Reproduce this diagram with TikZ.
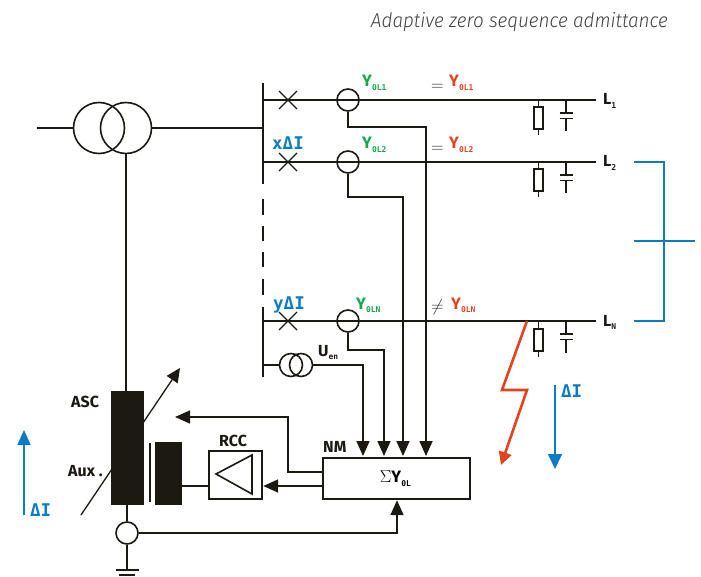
\documentclass[tikz,border=0pt]{standalone}
\usepackage{xcolor}
\usepackage{fontspec}
\setmainfont{Fira Sans}
\newfontfamily\monofnt{DejaVu Sans Mono}
\newfontfamily\titlefnt[FakeStretch=0.945]{Fira Sans Light}
\usetikzlibrary{arrows.meta}
\definecolor{wireblack}{HTML}{1C1812}
\definecolor{ygreen}{HTML}{12A84B}
\definecolor{yred}{HTML}{E2431E}
\definecolor{dblue}{HTML}{0A7CC4}
\tikzset{
  wire/.style={draw=wireblack,line width=1.6pt},
  tipwire/.style={wire,-{Triangle[length=15pt,width=13pt]},shorten >=0pt},
  core/.style={draw=none,fill=wireblack,inner sep=0pt,anchor=north west},
  ct/.style={circle,draw=wireblack,line width=1.6pt,fill=none,minimum size=22pt,inner sep=0pt},
  blueline/.style={draw=dblue,line width=1.7pt},
  boxed/.style={draw=wireblack,line width=2.2pt,inner sep=0pt,anchor=north west},
  lab/.style={inner sep=0pt,anchor=base west,text=wireblack,font=\fontsize{16}{16}\selectfont\bfseries},
  ylab/.style={inner sep=0pt,anchor=base west,font=\fontsize{16.5}{16.5}\selectfont\bfseries},
  dlab/.style={inner sep=0pt,anchor=base west,text=dblue,font=\fontsize{17.5}{17.5}\selectfont\monofnt\bfseries},
  eqlab/.style={inner sep=0pt,anchor=base west,text=black!85},
}
\newcommand{\subtxt}[1]{\raisebox{-3.5pt}{\fontsize{8}{8}\selectfont\monofnt\bfseries #1}}
\begin{document}
\begin{tikzpicture}[x=1pt,y=-1pt]
  \useasboundingbox (0,0) rectangle (701,577);

  \node[inner sep=0pt,anchor=base east,text=black!75] (title) at (668,28)
    {\fontsize{20}{20}\selectfont\titlefnt\itshape Adaptive zero sequence admittance};

  \node[ct,minimum size=51pt] (tra) at (99,128) {};
  \node[ct,minimum size=51pt] (trb) at (126,128) {};
  \coordinate (feed) at (37,128);
  \coordinate (bus1) at (263,128);
  \draw[wire] (feed) -- (tra.west);
  \draw[wire] (trb.east) -- (bus1);

  \node[core,minimum width=33pt,minimum height=114pt] (asc) at (111,391) {};
  \node[core,minimum width=27pt,minimum height=63pt] (aux) at (155,442) {};
  \draw[wire] (trb.south) -- (asc.north -| trb.south);
  \fill[wireblack] (149.2,443) rectangle (151.2,502);

  \draw[wire] (263,83) -- (263,184);
  \draw[wire] (263,199) -- (263,215);
  \draw[wire] (263,226) -- (263,241);
  \draw[wire] (263,252) -- (263,267);
  \draw[wire] (263,279) -- (263,295);
  \draw[wire] (263,307) -- (263,377);

  \foreach \nm/\yy in {a/100,b/162,n/321}{
    \coordinate (bus\nm) at (263,\yy);
    \coordinate (end\nm) at (596,\yy);
    \node[ct] (ct\nm) at (348,\yy) {};
    \draw[wire] (bus\nm) -- (end\nm);
    \draw[wire,line width=1.4pt] (279,\yy-9) -- (297,\yy+9);
    \draw[wire,line width=1.4pt] (279,\yy+9) -- (297,\yy-9);
    \node[draw=wireblack,line width=2pt,minimum width=9pt,minimum height=22pt,inner sep=0pt,anchor=north] (res\nm) at (538.5,\yy+6.5) {};
    \draw[wire] (538.5,\yy) -- (res\nm.north);
    \draw[wire] (res\nm.south) -- ++(0,5);
    \draw[wire] (566,\yy) -- (566,\yy+13);
    \draw[wire] (559.5,\yy+13) -- (572.5,\yy+13);
    \draw[wire] (559.5,\yy+18.5) -- (572.5,\yy+18.5);
    \draw[wire] (566,\yy+18.5) -- (566,\yy+31.5);
  }

  \node[boxed,minimum width=147pt,minimum height=41pt] (nm) at (322,457) {};
  \node[boxed,minimum width=53pt,minimum height=48pt] (rcc) at (208,450) {};
  \node[inner sep=0pt] (sumy) at (395.5,478.5) {\fontsize{16.5}{16.5}\selectfont$\Sigma$\textbf{Y}\subtxt{0L}};

  \draw[wire,fill=white] (216,474) -- (252,455) -- (252,494) -- cycle;

  \draw[tipwire] (cta.south) |- (426,127) -- (426,456);
  \draw[tipwire] (ctb.south) |- (403,197) -- (403,456);
  \draw[tipwire] (ctn.south) |- (384,350) -- (384,456);

  \node[ct,minimum size=23pt] (ua) at (291,365) {};
  \node[ct,minimum size=23pt] (ub) at (301,365) {};
  \coordinate (busu) at (263,365);
  \draw[wire] (busu) -- (ua.west);
  \draw[tipwire] (ub.east) -- (363,365) -- (363,456);

  \draw[tipwire] (322,486) -- (rcc.east |- 0,486);
  \draw[wire] (rcc.west |- 0,486) -- (aux.east |- 0,486);
  \draw[tipwire] (322,472) -- (288,472) -- (288,417) -- (175,417);

  \node[ct] (cte) at (127,533) {};
  \coordinate (gnd) at (127,570);
  \draw[wire] (127,505) -- (cte.north);
  \draw[wire] (cte.south) -- (gnd);
  \draw[wire] (116,570) -- (139,570);
  \draw[wire,line width=2pt] (119,575) -- (135,575);
  \draw[tipwire] (cte.east) -- (397,533) -- (nm.south -| 397,0);

  \draw[wire,line width=1.3pt,-{Triangle[length=14pt,width=13pt]}] (81,515) -- (180,368);
  \node[core,minimum width=33pt,minimum height=114pt] at (111,391) {};

  \draw[draw=yred,line width=2.6pt,-{Triangle[length=13pt,width=13pt]}] (527,321) -- (502,390) -- (527,390) -- (501,465);

  \draw[blueline,-{Triangle[length=15pt,width=13pt]}] (24,515) -- (24,430);
  \draw[blueline,-{Triangle[length=15pt,width=14pt]}] (555,385) -- (555,469);
  \draw[blueline] (634,162) -- (664,162) -- (664,321) -- (634,321);
  \draw[blueline] (634,241) -- (695,241);

  \node[ylab,text=ygreen] (ya) at (362,87) {Y\subtxt{0L1}};
  \node[ylab,text=ygreen] (yb) at (362,149) {Y\subtxt{0L2}};
  \node[ylab,text=ygreen] (yn) at (356,309) {Y\subtxt{0LN}};
  \node[ylab,text=yred] (ra) at (449,87) {Y\subtxt{0L1}};
  \node[ylab,text=yred] (rb) at (449,149) {Y\subtxt{0L2}};
  \node[ylab,text=yred] (rn) at (451,309) {Y\subtxt{0LN}};
  \node[eqlab] (eqa) at (431,90.5) {\fontsize{17}{17}\selectfont$=$};
  \node[eqlab] (eqb) at (431,152.5) {\fontsize{17}{17}\selectfont$=$};
  \node[eqlab] (neq) at (431,311) {\fontsize{17}{17}\selectfont$\neq$};

  \node[lab] (la) at (603,105) {L\subtxt{1}};
  \node[lab] (lb) at (603,167) {L\subtxt{2}};
  \node[lab] (ln) at (603,326) {L\subtxt{N}};

  \node[dlab] (xd) at (272,150) {xΔI};
  \node[dlab] (yd) at (273,309) {yΔI};
  \node[dlab] (dl) at (30,516) {ΔI};
  \node[dlab] (dr) at (561,397) {ΔI};

  \node[lab] (asclab) at (71,407) {ASC};
  \node[lab] (auxlab) at (68,476) {Aux .};
  \node[lab] (rcclab) at (219,446) {RCC};
  \node[lab] (nmlab) at (323,452) {NM};
  \node[lab] (uen) at (318,356) {U\subtxt{en}};
\end{tikzpicture}
\end{document}
